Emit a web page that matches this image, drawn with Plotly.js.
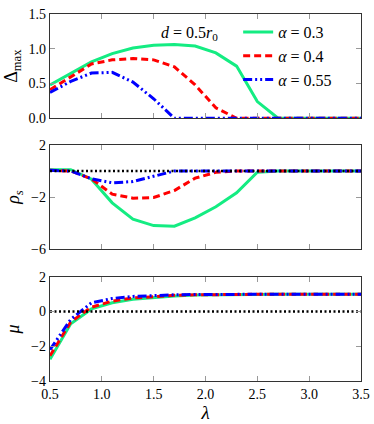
<!DOCTYPE html>
<html>
<head>
<meta charset="utf-8">
<script src="https://cdn.plot.ly/plotly-3.0.1.min.js"></script>
<style>
  body { margin: 0; background: #fff; }
  #chart { width: 374px; height: 424px; }
</style>
</head>
<body>
<div id="chart"></div>
<script>
// lambda grid, shared by all three panels
var lambda = [0.5, 0.7, 0.9, 1.1, 1.3, 1.5, 1.7, 1.9, 2.1, 2.3, 2.5, 2.7, 2.9, 3.1, 3.3, 3.5];
var zeroRef = [0, 0, 0, 0, 0, 0, 0, 0, 0, 0, 0, 0, 0, 0, 0, 0];

var alphaNames = ['<i>α</i> = 0.3', '<i>α</i> = 0.4', '<i>α</i> = 0.55'];

// top panel: Delta_max
var deltaA03 = [0.48, 0.65, 0.81, 0.93, 1.01, 1.05, 1.06, 1.04, 0.94, 0.75, 0.24, 0, 0, 0, 0, 0];
var deltaA04 = [0.41, 0.60, 0.78, 0.84, 0.86, 0.84, 0.74, 0.48, 0.15, 0, 0, 0, 0, 0, 0, 0];
var deltaA055 = [0.37, 0.53, 0.65, 0.66, 0.52, 0.28, 0, 0, 0, 0, 0, 0, 0, 0, 0, 0];

// middle panel: rho_s
var rhoA03 = [0.1, 0.1, -0.63, -2.45, -3.7, -4.2, -4.25, -3.6, -2.75, -1.68, -0.1, 0, 0, 0, 0, 0];
var rhoA04 = [0.05, 0, -0.6, -1.78, -2.09, -2.04, -1.5, -0.55, -0.1, 0, 0, 0, 0, 0, 0, 0];
var rhoA055 = [0.05, 0, -0.6, -0.91, -0.81, -0.38, 0, 0, 0, 0, 0, 0, 0, 0, 0, 0];

// bottom panel: mu
var muA03 = [-2.75, -0.7, 0.15, 0.5, 0.7, 0.82, 0.9, 0.95, 0.97, 0.98, 0.99, 1, 1, 1, 1, 1];
var muA04 = [-2.55, -0.6, 0.25, 0.6, 0.78, 0.87, 0.93, 0.96, 0.98, 0.99, 1, 1, 1, 1, 1, 1];
var muA055 = [-2.2, -0.45, 0.5, 0.75, 0.87, 0.93, 0.96, 0.98, 0.99, 1, 1, 1, 1, 1, 1, 1];

var green = '#14ec82';
var styles = [
    {color: green, width: 3, dash: 'solid'},
    {color: '#ff0000', width: 3, dash: '7px,4px'},
    {color: '#0000ff', width: 3, dash: '9px,3px,2px,3px,2px,3px'}
];
var dotted = {color: '#000', width: 2.5, dash: '2px,2.5px'};

function series(ys, ax, withLegend) {
    return ys.map(function (y, i) {
        return {
            x: lambda, y: y, xaxis: 'x' + ax.x, yaxis: 'y' + ax.y,
            type: 'scatter', mode: 'lines', line: styles[i],
            name: alphaNames[i], showlegend: withLegend
        };
    });
}

var data = []
    .concat(series([deltaA03, deltaA04, deltaA055], {x: '', y: ''}, true))
    .concat(series([rhoA03, rhoA04, rhoA055], {x: '2', y: '2'}, false))
    .concat(series([muA03, muA04, muA055], {x: '3', y: '3'}, false));

data.push({x: lambda, y: zeroRef, xaxis: 'x2', yaxis: 'y2', mode: 'lines', line: dotted, showlegend: false});
data.push({x: lambda, y: zeroRef, xaxis: 'x3', yaxis: 'y3', mode: 'lines', line: dotted, showlegend: false});

var serif = 'Liberation Serif';

function xAxis(labels, anchor) {
    return {
        range: [0.5, 3.5], dtick: 0.5, tick0: 0.5, tickformat: '.1f',
        showticklabels: labels, anchor: anchor,
        ticks: 'inside', ticklen: 5, tickcolor: '#999', mirror: 'ticks',
        showline: true, linecolor: '#333', linewidth: 1.2,
        showgrid: false, zeroline: false,
        tickfont: {family: serif, size: 14, color: '#000'}
    };
}
function yAxis(range, dtick, tick0, fmt, domain, title, anchor) {
    return {
        range: range, dtick: dtick, tick0: tick0, tickformat: fmt, domain: domain, anchor: anchor,
        ticks: 'inside', ticklen: 5, tickcolor: '#999', mirror: 'ticks',
        showline: true, linecolor: '#333', linewidth: 1.2,
        showgrid: false, zeroline: false,
        tickfont: {family: serif, size: 14, color: '#000'},
        title: {text: title, font: {family: serif, size: 18, color: '#000'}, standoff: 6}
    };
}

var xa1 = xAxis(false, 'y'); xa1.domain = [0, 1];
var xa2 = xAxis(false, 'y2'); xa2.matches = 'x';
var xa3 = xAxis(true, 'y3'); xa3.matches = 'x';
xa3.title = {text: '<i>λ</i>', font: {family: serif, size: 19, color: '#000'}, standoff: 4};

var layout = {
    width: 374, height: 424,
    margin: {l: 50, r: 13, t: 14, b: 43},
    paper_bgcolor: '#fff', plot_bgcolor: '#fff',
    font: {family: serif, color: '#000'},
    showlegend: true,
    legend: {
        x: 0.605, y: 0.997, xanchor: 'left', yanchor: 'top',
        bgcolor: 'rgba(0,0,0,0)', borderwidth: 0,
        font: {family: serif, size: 16, color: '#000'},
        itemwidth: 30, tracegroupgap: 0
    },
    xaxis: xa1, xaxis2: xa2, xaxis3: xa3,
    yaxis: yAxis([0, 1.5], 0.5, 0, '.1f', [0.716, 1], 'Δ<sub>max</sub>', 'x'),
    yaxis2: yAxis([-6, 2], 4, 2, 'd', [0.3597, 0.643], '<i>ρ</i><sub><i>s</i></sub>', 'x2'),
    yaxis3: yAxis([-4, 2], 2, 0, 'd', [0, 0.284], '<i>μ</i>', 'x3'),
    annotations: [{
        xref: 'x', yref: 'y', x: 1.85, y: 1.22, showarrow: false,
        text: '<i>d</i> = 0.5<i>r</i><sub>0</sub>',
        font: {family: serif, size: 16, color: '#000'}
    }]
};

Plotly.newPlot('chart', data, layout, {displayModeBar: false, staticPlot: true});
</script>
</body>
</html>
